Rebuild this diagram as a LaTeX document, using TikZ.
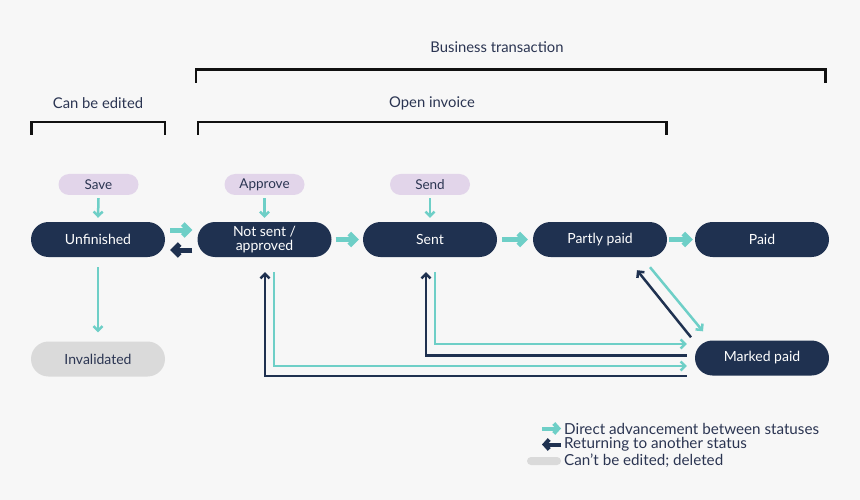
\documentclass[tikz,border=0pt]{standalone}
\usepackage{fontspec}
\setmainfont{Lato}
\usetikzlibrary{arrows.meta,calc}
\definecolor{navy}{HTML}{1F3150}
\definecolor{tealc}{HTML}{6ECFC7}
\definecolor{lav}{HTML}{E2D5EA}
\definecolor{grayc}{HTML}{DADADA}
\definecolor{bgc}{HTML}{F7F7F7}
\definecolor{ink}{HTML}{2B3552}
\definecolor{brk}{HTML}{111111}
\begin{document}
\begin{tikzpicture}[x=1pt,y=-1pt,
  state/.style={rounded corners=17.5pt, minimum width=134pt, minimum height=35pt, fill=navy, text=white,
    font=\fontsize{14}{14.5}\selectfont, inner sep=0pt, align=center},
  dead/.style={state, fill=grayc, text=ink},
  action/.style={rounded corners=10.5pt, minimum width=80pt, minimum height=21pt, fill=lav, text=ink,
    font=\fontsize{13.5}{14}\selectfont, inner sep=0pt},
  label/.style={text=ink, font=\fontsize{14.8}{16}\selectfont, inner sep=0pt},
  legendtxt/.style={text=ink, font=\fontsize{15.2}{16}\selectfont, inner sep=0pt, anchor=west},
  bigadv/.style={draw=tealc, line width=5pt, -{Straight Barb[length=6pt,width=12pt]}},
  bigret/.style={draw=navy, line width=5pt, -{Straight Barb[length=6pt,width=12pt]}},
  adv/.style={draw=tealc, line width=2.5pt, -{Straight Barb[length=4.5pt,width=9pt]}},
  ret/.style={draw=navy, line width=2.5pt, -{Straight Barb[length=4.5pt,width=9pt]}},
  legadv/.style={draw=tealc, line width=4pt, -{Straight Barb[length=4.5pt,width=10pt]}},
  legret/.style={draw=navy, line width=4pt, -{Straight Barb[length=4.5pt,width=10pt]}},
  bracket/.style={draw=brk, line width=2.2pt}
]
\useasboundingbox (0,0) rectangle (860,500);
\fill[bgc] (0,0) rectangle (860,500);

% labels and brackets
\node[label] (bt) at (497,47) {Business transaction};
\node[label] (ce) at (98,103) {Can be edited};
\node[label] (oi) at (432,103) {Open invoice};
\draw[bracket] (196,83) -- (196,69.5) -- (825.5,69.5) -- (825.5,83);
\draw[bracket] (31.5,135) -- (31.5,122) -- (165,122) -- (165,135);
\draw[bracket] (198,135) -- (198,122) -- (666.5,122) -- (666.5,135);

% action pills
\node[action] (save) at (98.5,184.5) {Save};
\node[action] (appr) at (264.5,184.5) {Approve};
\node[action] (send) at (430,184.5) {Send};

% states
\node[state] (unf) at (98,239.5) {Unfinished};
\node[state] (nsa) at (264.5,239.5) {Not sent /\\approved};
\node[state] (sent) at (430,239.5) {Sent};
\node[state] (pp) at (600,239.5) {Partly paid};
\node[state] (paid) at (762,239.5) {Paid};
\node[state] (mp) at (762,358) {Marked paid};
\node[dead] (inv) at (98,359) {Invalidated};

% action arrows
\draw[adv] ($(save.south)+(0,3)$) -- ($(unf.north)+(0,-4)$);
\draw[adv] ($(appr.south)+(0,3)$) -- ($(nsa.north)+(0,-4)$);
\draw[adv] ($(send.south)+(0,3)$) -- ($(sent.north)+(0,-4)$);
\draw[adv] ($(unf.south)+(0,10)$) -- ($(inv.north)+(0,-9)$);

% thick advancement arrows
\draw[bigadv] ($(unf.east)+(5,-9.5)$) -- ($(nsa.west)+(-5,-9.5)$);
\draw[bigret] ($(nsa.west)+(-5,10.5)$) -- ($(unf.east)+(5,10.5)$);
\draw[bigadv] ($(nsa.east)+(4,0)$) -- ($(sent.west)+(-4,0)$);
\draw[bigadv] ($(sent.east)+(5,0)$) -- ($(pp.west)+(-5,0)$);
\draw[bigadv] ($(pp.east)+(2,0)$) -- ($(paid.west)+(-2,0)$);

% returns to marked paid
\draw[adv] ($(nsa.south)+(9.5,15)$) |- ($(mp.west)+(-8,8)$);
\draw[ret] ($(mp.west)+(-8,18)$) -| ($(nsa.south)+(0.5,15)$);
\draw[adv] ($(sent.south)+(5,15)$) |- ($(mp.west)+(-8,-14)$);
\draw[ret] ($(mp.west)+(-8,-2.5)$) -| ($(sent.south)+(-4,15)$);
\draw[adv] ($(pp.south)+(50,10)$) -- ($(mp.north)+(-59,-9)$);
\draw[ret] ($(mp.north)+(-71,-3)$) -- ($(pp.south)+(37,13)$);

% legend
\node[legendtxt] (l1) at (564,428.5) {Direct advancement between statuses};
\node[legendtxt] (l2) at (564,444.5) {Returning to another status};
\node[legendtxt] (l3) at (564,461) {Can’t be edited; deleted};
\draw[legadv] ($(l1.west)+(-22,0)$) -- ($(l1.west)+(-3,0)$);
\draw[legret] ($(l2.west)+(-3,0)$) -- ($(l2.west)+(-22,0)$);
\fill[grayc, rounded corners=4pt] ($(l3.west)+(-37,-4)$) rectangle ($(l3.west)+(-3,4)$);
\end{tikzpicture}
\end{document}
